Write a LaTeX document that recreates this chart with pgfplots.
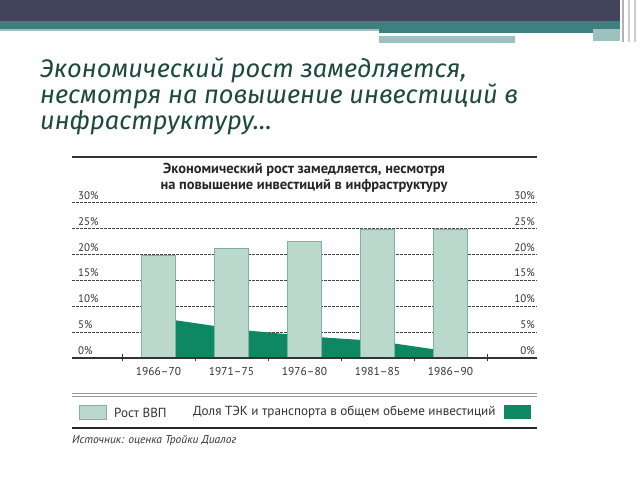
\documentclass[border=0pt]{standalone}
\usepackage{pgfplots}
\pgfplotsset{compat=1.18}
\usepackage{fontspec}
\setmainfont{PT Sans}
\newfontfamily\titlefont{Fira Sans}
\definecolor{bandDark}{HTML}{41445A}
\definecolor{bandTeal}{HTML}{3F7F80}
\definecolor{bandLight}{HTML}{9DC0C0}
\definecolor{titleC}{HTML}{1D4A3B}
\definecolor{barC}{HTML}{BAD9CC}
\definecolor{barEdge}{HTML}{7FB3A0}
\definecolor{areaC}{HTML}{0E8862}
\definecolor{gridC}{HTML}{444444}
\definecolor{txtC}{HTML}{333333}
\begin{document}
\begin{tikzpicture}[x=1bp,y=1bp]
\useasboundingbox (0,0) rectangle (640,480);
\fill[white] (0,0) rectangle (640,480);
% top banner
\fill[bandDark] (0,459) rectangle (620,480);
\fill[bandTeal] (0,451) rectangle (620,459);
\fill[bandLight] (0,449) rectangle (379,451);
\fill[bandTeal] (379,447) rectangle (593,451);
\fill[bandLight] (379,437) rectangle (515,444);
\fill[bandLight] (593,439) rectangle (620,451);
\fill[gray!60] (622,438) rectangle (624,480);
\fill[gray!40] (628,438) rectangle (629.5,480);
\fill[gray!40] (634,438) rectangle (635.5,480);
% slide title
\node[anchor=base west, inner sep=0, text=titleC, font=\titlefont\itshape\fontsize{25.5}{26}\selectfont] at (40,402) {Экономический рост замедляется,};
\node[anchor=base west, inner sep=0, text=titleC, font=\titlefont\itshape\fontsize{25.5}{26}\selectfont] at (40,376) {несмотря на повышение инвестиций в};
\node[anchor=base west, inner sep=0, text=titleC, font=\titlefont\itshape\fontsize{25.5}{26}\selectfont] at (40,350) {инфраструктуру…};
% chart frame
\draw[line width=2bp, txtC] (72,323) -- (537,323);
\node[font=\bfseries\fontsize{14.5}{16}\selectfont, text=black!85, align=center, inner sep=0] at (304,302) {Экономический рост замедляется, несмотря\\на повышение инвестиций в инфраструктуру};
\draw[line width=0.9bp, gray!80] (72,87) -- (537,87);
\draw[line width=0.9bp, gray!80] (72,83.5) -- (537,83.5);
\fill[barC, draw=barEdge, line width=0.8bp] (79,61) rectangle (106,75);
\node[anchor=west, inner sep=0, text=txtC, font=\fontsize{13.2}{15}\selectfont] at (114,67.5) {Рост ВВП};
\node[anchor=west, inner sep=0, text=txtC, font=\fontsize{13.2}{15}\selectfont] at (193,67.5) {Доля ТЭК и транспорта в общем обьеме инвестиций};
\fill[areaC] (504,61) rectangle (531,75);
\draw[line width=2bp, black!85] (72,52) -- (537,52);
\node[anchor=west, inner sep=0, text=txtC, font=\itshape\fontsize{11.5}{13}\selectfont] at (72,39) {Источник: оценка Тройки Диалог};
\begin{axis}[
  at={(72bp,122bp)}, anchor=south west,
  scale only axis, width=465bp, height=155bp,
  xmin=-1.185, xmax=5.185, ymin=0, ymax=30,
  axis line style={draw=none},
  ytick={5,10,...,30}, yticklabels={},
  ymajorgrids, grid style={gridC, line width=1bp, dash pattern=on 3bp off 1bp},
  y tick style={draw=none},
  xtick={0,1,2,3,4},
  xticklabels={1966–70,1971–75,1976–80,1981–85,1986–90},
  xtick pos=bottom,
  minor xtick={-0.5,0.5,1.5,2.5,3.5,4.5},
  major tick length=0pt, minor tick length=7bp, tick align=center,
  minor x tick style={txtC, line width=0.9bp},
  xticklabel style={text=txtC, font=\fontsize{11.5}{13}\selectfont, yshift=-6bp},
  clip=false,
]
\addplot[fill=areaC, draw=none] coordinates {(0.233,7.3) (0.767,6.2) (1.233,5.3) (1.767,4.6) (2.233,4.0) (2.767,3.5) (3.233,2.8) (3.767,1.7)} \closedcycle;
\addplot[ybar, bar width=34bp, fill=barC, draw=barEdge, line width=0.6bp] coordinates {(0,19.8) (1,21.2) (2,22.5) (3,25) (4,25)};
\draw[line width=1.1bp, txtC] (axis cs:-1.185,0) -- (axis cs:5.185,0);
\pgfplotsinvokeforeach{0,5,10,15,20,25,30}{
  \node[anchor=base west, inner sep=0, text=txtC, font=\fontsize{11}{13}\selectfont, xshift=6bp, yshift=3.5bp] at (axis cs:-1.185,#1) {#1\%};
  \node[anchor=base east, inner sep=0, text=txtC, font=\fontsize{11}{13}\selectfont, xshift=-2bp, yshift=3.5bp] at (axis cs:5.185,#1) {#1\%};
}
\end{axis}
\end{tikzpicture}
\end{document}
